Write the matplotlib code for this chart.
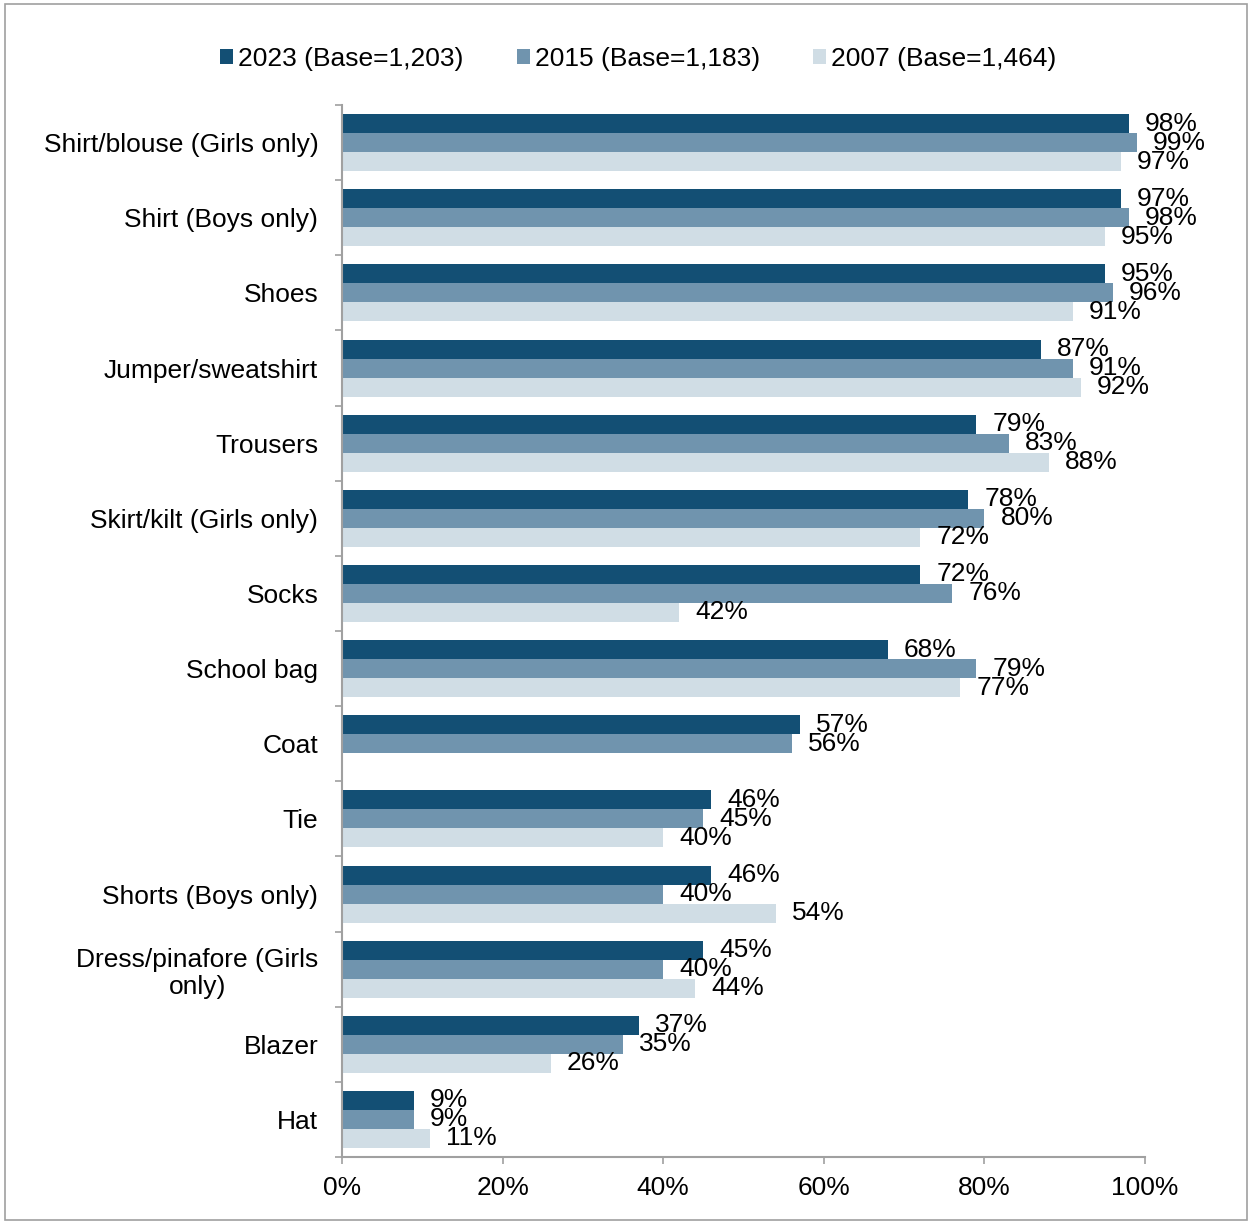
import matplotlib.pyplot as plt
from matplotlib.patches import Rectangle
import numpy as np

plt.rcParams["font.family"] = ["Liberation Sans", "DejaVu Sans"]

categories = [
    "Shirt/blouse (Girls only)", "Shirt (Boys only)", "Shoes", "Jumper/sweatshirt",
    "Trousers", "Skirt/kilt (Girls only)", "Socks", "School bag", "Coat", "Tie",
    "Shorts (Boys only)", "Dress/pinafore (Girls\nonly)", "Blazer", "Hat",
]
y2023 = [98, 97, 95, 87, 79, 78, 72, 68, 57, 46, 46, 45, 37, 9]
y2015 = [99, 98, 96, 91, 83, 80, 76, 79, 56, 45, 40, 40, 35, 9]
y2007 = [97, 95, 91, 92, 88, 72, 42, 77, None, 40, 54, 44, 26, 11]

series = [
    ("2023 (Base=1,203)", y2023, "#134f74"),
    ("2015 (Base=1,183)", y2015, "#7094ae"),
    ("2007 (Base=1,464)", y2007, "#d0dde5"),
]

FS = 19

fig = plt.figure(figsize=(12.49, 12.24), dpi=100)
ax = fig.add_axes([0.2738, 0.0547, 0.9168 - 0.2738, 0.9142 - 0.0547])

n = len(categories)
pos = np.arange(n)
h = 0.253
for i, (name, vals, col) in enumerate(series):
    ys = pos + (i - 1) * h
    xs = [v if v is not None else 0 for v in vals]
    ax.barh(ys, xs, height=h, color=col, label=name)
    for y, v in zip(ys, vals):
        if v is None:
            continue
        ax.annotate(f"{v}%", (v, y), xytext=(11.5, 0), textcoords="offset points",
                    ha="left", va="center", fontsize=FS)

ax.set_xlim(0, 100)
ax.set_ylim(n - 0.5, -0.5)
ax.set_xticks(np.arange(0, 101, 20))
ax.set_xticklabels([f"{t}%" for t in range(0, 101, 20)], fontsize=FS)
ax.set_yticks(pos)
ax.set_yticklabels(categories, fontsize=FS, multialignment="center")
ax.set_yticks(np.arange(-0.5, n, 1), minor=True)
ax.tick_params(axis="y", which="major", length=0, pad=17)
ax.tick_params(axis="y", which="minor", length=5, color="#a0a0a0", width=1.2)
ax.tick_params(axis="x", length=5, color="#a0a0a0", width=1.2, pad=9)

for s in ["top", "right"]:
    ax.spines[s].set_visible(False)
for s in ["left", "bottom"]:
    ax.spines[s].set_color("#a0a0a0")
    ax.spines[s].set_linewidth(1.5)

fig.legend(loc="center", bbox_to_anchor=(0.511, 0.952), ncol=3, frameon=False,
           fontsize=FS, handlelength=0.5, handleheight=0.5,
           handletextpad=0.2, columnspacing=2.0)

fig.patches.append(Rectangle((0.004, 0.003), 0.994, 0.994, transform=fig.transFigure,
                             fill=False, edgecolor="#a0a0a0", linewidth=1.2))

fig.savefig("out.png", dpi=100)
